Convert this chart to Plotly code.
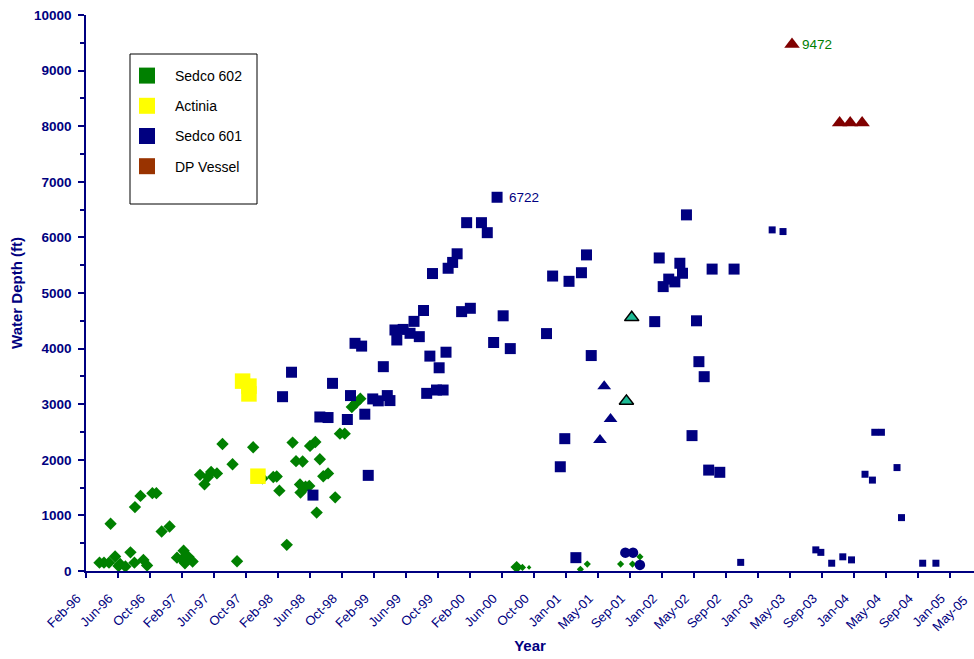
import plotly.graph_objects as go

NAVY = "#000080"
GREEN = "#008000"
YELLOW = "#FFFF00"
DARK_RED = "#800000"
BROWN = "#993300"
TEAL = "#1DBA94"
FONT = "Arial, Liberation Sans, sans-serif"

# ---- Sedco 602 (semi-submersible) ----
s602_dates = [
    "1996-04-02", "1996-04-19", "1996-05-08", "1996-05-14", "1996-05-31", "1996-06-13",
    "1996-06-19", "1996-07-09", "1996-07-28", "1996-08-12", "1996-08-14", "1996-09-04",
    "1996-09-15", "1996-09-29", "1996-10-19", "1996-11-03", "1996-11-23", "1996-12-23",
    "1997-01-20", "1997-02-07", "1997-02-14", "1997-02-19", "1997-03-04", "1997-03-20",
    "1997-04-17", "1997-05-04", "1997-05-17", "1997-05-29", "1997-06-20", "1997-07-11",
    "1997-08-18", "1997-09-04", "1997-11-04", "1997-12-09", "1998-01-19", "1998-02-01",
    "1998-02-11", "1998-03-11", "1998-04-02", "1998-04-15", "1998-04-30", "1998-05-02",
    "1998-05-10", "1998-05-21", "1998-06-04", "1998-06-07", "1998-06-27", "1998-07-02",
    "1998-07-14", "1998-07-27", "1998-08-14", "1998-09-10", "1998-09-28", "1998-10-16",
    "1998-11-12", "1998-11-27", "1998-12-14", "2000-07-27",
]
s602_depths = [
    150, 150, 150, 850, 260, 90,
    125, 80, 335, 150, 1150, 1350,
    200, 100, 1400, 1400, 710, 800,
    240, 210, 365, 140, 255, 170,
    1730, 1560, 1690, 1780, 1755, 2285,
    1920, 175, 2225, 1665, 1690, 1700,
    1445, 470, 2310, 1975, 1555, 1410,
    1970, 1515, 1530, 2250, 2320, 1050,
    2010, 1705, 1755, 1325, 2470, 2470,
    2950, 3020, 3100, 70,
]
s602_late_dates = ["2000-08-18", "2001-03-25", "2001-04-20", "2001-08-24", "2001-10-08", "2001-11-05"]
s602_late_depths = [65, 30, 125, 125, 125, 255]
s602_tiny_dates = ["2000-09-12"]
s602_tiny_depths = [65]

# ---- Actinia ----
actinia_dates = ["1997-09-25", "1997-10-19", "1997-10-19", "1997-11-22"]
actinia_depths = [3415, 3325, 3185, 1705]

# ---- Sedco 601 ----
s601_dates = [
    "1998-02-23", "1998-03-29", "1998-06-18", "1998-07-14", "1998-08-14", "1998-08-31",
    "1998-10-26", "1998-11-07", "1998-11-24", "1998-12-19", "1998-12-31", "1999-01-13",
    "1999-01-30", "1999-02-20", "1999-03-11", "1999-03-26", "1999-04-05", "1999-04-24",
    "1999-05-01", "1999-05-25", "1999-06-20", "1999-07-05", "1999-07-25", "1999-08-10",
    "1999-08-22", "1999-09-03", "1999-09-13", "1999-09-28", "1999-10-08", "1999-10-23",
    "1999-11-03", "1999-11-11", "1999-11-28", "1999-12-15", "2000-01-01", "2000-01-20",
    "2000-02-03", "2000-03-16", "2000-04-07", "2000-05-01", "2000-05-14", "2000-06-06",
    "2000-07-03", "2000-11-17", "2000-12-10", "2001-01-08", "2001-01-25", "2001-02-10",
    "2001-03-08", "2001-03-29", "2001-04-17", "2001-05-05", "2001-12-31", "2002-01-17",
    "2002-02-01", "2002-02-22", "2002-03-17", "2002-04-05", "2002-04-15", "2002-04-30",
    "2002-05-21", "2002-06-07", "2002-06-16", "2002-07-06", "2002-07-23", "2002-08-05",
    "2002-09-03", "2002-10-27",
]
s601_depths = [
    3135, 3575, 1365, 2770, 2760, 3375,
    2725, 3155, 4095, 4045, 2820, 1720,
    3095, 3060, 3675, 3155, 3065, 4335,
    4155, 4345, 4275, 4490, 4215, 4685,
    3195, 3865, 5350, 3255, 3655, 3255,
    3935, 5445, 5550, 5705, 4665, 6265,
    4725, 6265, 6085, 4110, 6722, 4590,
    4000, 4270, 5305, 1875, 2380, 5210,
    240, 5365, 5685, 3875, 4485, 5630,
    5115, 5250, 5200, 5535, 5355, 6405,
    2435, 4500, 3765, 3495, 1815, 5430,
    1775, 5430,
]
s601_late_dates = [
    "2002-11-21", "2003-03-20", "2003-04-30", "2003-09-01", "2003-09-20", "2003-10-31",
    "2003-12-12", "2004-01-14", "2004-03-05", "2004-04-02", "2004-04-11", "2004-05-06",
    "2004-07-04", "2004-07-21", "2004-10-09", "2004-11-28",
]
s601_late_depths = [155, 6135, 6105, 380, 335, 140, 255, 200, 1740, 1635, 2495, 2495, 1860, 960, 140, 140]
s601_tri_dates = ["2001-06-07", "2001-06-23", "2001-07-17"]
s601_tri_depths = [2355, 3325, 2735]
s601_circ_dates = ["2001-09-11", "2001-10-10", "2001-11-05"]
s601_circ_depths = [330, 330, 110]
other_tri_dates = ["2001-09-15", "2001-10-05"]
other_tri_depths = [3055, 4560]

# ---- DP Vessel ----
dp_dates = ["2003-06-03", "2003-11-30", "2004-01-09", "2004-02-23"]
dp_depths = [9472, 8060, 8060, 8060]

legend_names = ["Sedco 602", "Actinia", "Sedco 601", "DP Vessel"]
legend_colors = [GREEN, YELLOW, NAVY, BROWN]

fig = go.Figure()


def pts(x, y, symbol, size, color, line=None):
    fig.add_trace(go.Scatter(
        x=x, y=y, mode="markers", showlegend=False, hoverinfo="x+y",
        marker=dict(symbol=symbol, size=size, color=color,
                    line=line or dict(width=0)),
    ))


pts(s602_dates, s602_depths, "diamond", 9.5, GREEN)
pts(s602_late_dates, s602_late_depths, "diamond", 5.5, GREEN)
pts(s602_tiny_dates, s602_tiny_depths, "diamond", 3.5, GREEN)
pts(actinia_dates, actinia_depths, "square", 15.5, YELLOW)
pts(s601_dates, s601_depths, "square", 11, NAVY)
pts(s601_late_dates, s601_late_depths, "square", 7, NAVY)
pts(s601_tri_dates, s601_tri_depths, "triangle-up", 12, NAVY)
pts(s601_circ_dates, s601_circ_depths, "circle", 10.5, NAVY)
pts(other_tri_dates, other_tri_depths, "triangle-up", 12.5, TEAL, dict(width=1.5, color="black"))
pts(dp_dates, dp_depths, "triangle-up", 13.5, DARK_RED)

# legend keys
for i, (name, col) in enumerate(zip(legend_names, legend_colors)):
    fig.add_trace(go.Scatter(
        x=[None], y=[None], mode="markers", name=name, legendgroup=f"g{i}",
        marker=dict(symbol="square", size=16, color=col),
    ))

# value labels on the two deepest wells
i601 = s601_depths.index(max(s601_depths))
idp = dp_depths.index(max(dp_depths))
fig.add_annotation(x=s601_dates[i601], y=s601_depths[i601], text=str(s601_depths[i601]),
                   showarrow=False, xanchor="left", xshift=10,
                   font=dict(family=FONT, size=13.5, color=NAVY))
fig.add_annotation(x=dp_dates[idp], y=dp_depths[idp], text=str(dp_depths[idp]),
                   showarrow=False, xanchor="left", xshift=8,
                   font=dict(family=FONT, size=13.5, color=GREEN))

# last tick label sits just past the right edge of the plotting area
fig.add_annotation(xref="paper", yref="paper", x=0.999, y=-0.034, text="May-05",
                   textangle=-45, showarrow=False, xanchor="right", yanchor="top",
                   font=dict(family=FONT, size=13, color=NAVY))

# legend frame
fig.add_shape(type="rect", xref="paper", yref="paper",
              x0=(130 - 86) / 888, x1=(257 - 86) / 888,
              y0=(571 - 204) / 556, y1=(571 - 54) / 556,
              line=dict(color="black", width=1), fillcolor="rgba(0,0,0,0)")

fig.update_layout(
    width=974, height=659,
    margin=dict(l=86, r=0, t=15, b=88),
    paper_bgcolor="white", plot_bgcolor="white",
    font=dict(family=FONT, color=NAVY),
    legend=dict(
        x=(119 - 86) / 888, y=(571 - 60) / 556, xanchor="left", yanchor="top",
        bgcolor="rgba(0,0,0,0)", borderwidth=0,
        font=dict(family=FONT, size=14, color="black"),
        itemsizing="trace", itemwidth=46, tracegroupgap=9,
    ),
)

fig.update_xaxes(
    type="date",
    range=["1996-02-11", "2005-04-21"],
    tick0="1996-02-11 12:00", dtick=121 * 86400000, tickformat="%b-%y",
    tickangle=-45, ticks="outside", ticklen=5, tickcolor=NAVY, tickwidth=1.5,
    ticklabelshift=-9, ticklabelstandoff=8,
    showline=True, linecolor=NAVY, linewidth=1.5,
    showgrid=False, zeroline=False, automargin=False,
    tickfont=dict(family=FONT, size=13, color=NAVY),
    title=dict(text="Year", standoff=9,
               font=dict(family=FONT, size=15, color=NAVY, weight="bold")),
)
fig.update_yaxes(
    range=[0, 10000], dtick=1000, tick0=0, tickformat="d",
    ticks="outside", ticklen=6, tickcolor=NAVY, tickwidth=1.5,
    minor=dict(dtick=500, ticks="outside", ticklen=4, tickcolor=NAVY, tickwidth=1.5),
    showline=True, linecolor=NAVY, linewidth=1.5,
    showgrid=False, zeroline=False, automargin=False,
    tickfont=dict(family=FONT, size=13.5, color=NAVY, weight="bold"),
    ticklabelstandoff=4,
    title=dict(text="Water Depth (ft)", standoff=8,
               font=dict(family=FONT, size=15, color=NAVY, weight="bold")),
)

fig.write_html("out.html")
